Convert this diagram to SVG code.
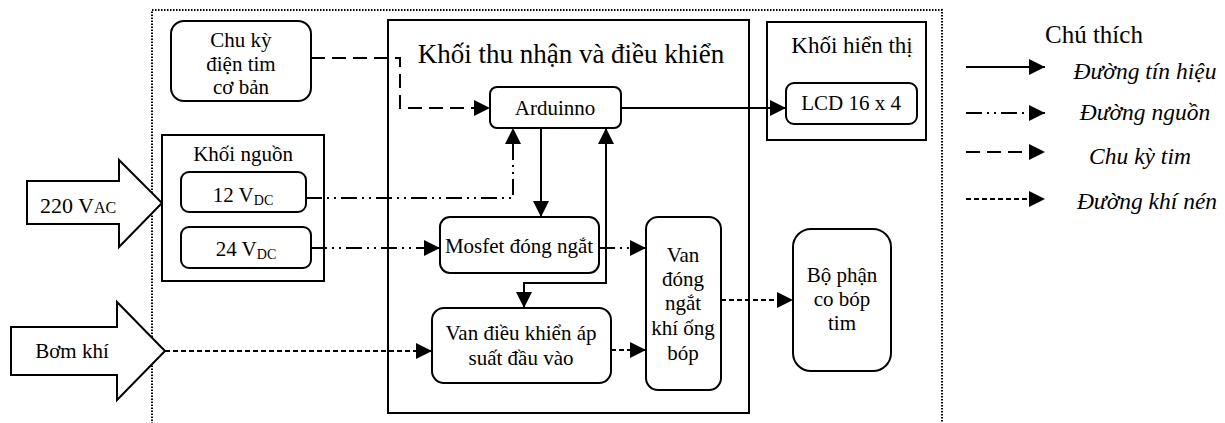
<svg xmlns="http://www.w3.org/2000/svg" width="1225" height="423" viewBox="0 0 1225 423" font-family="'Liberation Serif', 'DejaVu Serif', serif">
<style>
text{font-family:'Liberation Serif','DejaVu Serif',serif;fill:#000;}
.t{font-size:21px;text-anchor:middle;}
.box{fill:#fff;stroke:#000;stroke-width:2;}
.ln{fill:none;stroke:#000;stroke-width:2;}
.sig{marker-end:url(#ah);}
.pwr{stroke-dasharray:16,5,2,5,2,5;marker-end:url(#ah);}
.cyc{stroke-dasharray:14,7;marker-end:url(#ah);}
.air{stroke-dasharray:5,3;marker-end:url(#ah);}
.lg{font-size:23.5px;font-style:italic;text-anchor:middle;}
</style>
<defs>
<marker id="ah" markerUnits="userSpaceOnUse" markerWidth="16" markerHeight="16" refX="16" refY="8" orient="auto-start-reverse">
<path d="M0,0 L16,8 L0,16 z" fill="#000"/>
</marker>
</defs>
<rect width="1225" height="423" fill="#fff"/>
<rect id="outer" x="152" y="10" width="790" height="440" fill="none" stroke="#000" stroke-width="2" stroke-dasharray="1.5,1.5"/>

<g id="ac220">
<polygon class="box" points="27,181 119,181 119,160 162,203 119,247 119,224 27,224"/>
<text x="40" y="213" style="font-size:22px">220 V<tspan style="font-size:16px">AC</tspan></text>
</g>
<g id="bomkhi">
<polygon class="box" points="11,327 117,327 117,302 165,351 117,400 117,375 11,375"/>
<text class="t" x="72" y="358">Bơm khí</text>
</g>

<g id="chuky">
<rect class="box" x="171" y="21" width="140" height="80" rx="13"/>
<text class="t" x="241" y="47">Chu kỳ</text>
<text class="t" x="241" y="71">điện tim</text>
<text class="t" x="241" y="94">cơ bản</text>
</g>

<g id="khoinguon">
<rect class="box" x="162" y="135" width="162" height="146"/>
<text class="t" x="243" y="161">Khối nguồn</text>
</g>
<g id="v12">
<rect class="box" x="181" y="172" width="125" height="40" rx="8"/>
<text class="t" x="243" y="202">12 V<tspan style="font-size:14px" dy="3">DC</tspan></text>
</g>
<g id="v24">
<rect class="box" x="181" y="227" width="130" height="41" rx="8"/>
<text class="t" x="246" y="256">24 V<tspan style="font-size:14px" dy="3">DC</tspan></text>
</g>

<g id="khoithunhan">
<rect class="box" x="388" y="20" width="361" height="393"/>
<text x="571" y="63" style="font-size:27px;text-anchor:middle">Khối thu nhận và điều khiển</text>
</g>
<g id="arduino">
<rect class="box" x="490" y="87" width="131" height="41" rx="7"/>
<text class="t" x="555" y="115">Arduinno</text>
</g>
<g id="mosfet">
<rect class="box" x="440" y="217" width="159" height="56" rx="10"/>
<text class="t" x="519" y="253">Mosfet đóng ngắt</text>
</g>
<g id="vandieukhien">
<rect class="box" x="432" y="308" width="179" height="75" rx="12"/>
<text class="t" x="521" y="340">Van điều khiển áp</text>
<text class="t" x="521" y="365">suất đầu vào</text>
</g>
<g id="vandongngat">
<rect class="box" x="646" y="217" width="75" height="173" rx="12"/>
<text class="t" x="683" y="262">Van</text>
<text class="t" x="683" y="286">đóng</text>
<text class="t" x="683" y="310">ngắt</text>
<text class="t" x="683" y="335">khí ống</text>
<text class="t" x="683" y="360">bóp</text>
</g>

<g id="khoihienthi">
<rect class="box" x="767" y="22" width="159" height="118"/>
<text x="852" y="53" style="font-size:23px;text-anchor:middle">Khối hiển thị</text>
</g>
<g id="lcd">
<rect class="box" x="786" y="83" width="131" height="41" rx="8"/>
<text class="t" x="851" y="110">LCD 16 x 4</text>
</g>

<g id="bophan">
<rect class="box" x="793" y="229" width="98" height="142" rx="18"/>
<text class="t" x="842" y="282">Bộ phận</text>
<text class="t" x="842" y="306">co bóp</text>
<text class="t" x="842" y="330">tim</text>
</g>

<g id="connectors">
<path class="ln cyc" d="M311,58 H400 V108 H490"/>
<path class="ln pwr" d="M306,198 H513 V128"/>
<path class="ln pwr" d="M311,248 H440"/>
<path class="ln sig" d="M541,128 V217"/>
<path class="ln sig" style="marker-start:url(#ah)" d="M524,308 V283 H606 V128"/>
<path class="ln pwr" d="M599,248 H646"/>
<path class="ln air" d="M165,351 H432"/>
<path class="ln air" d="M611,350 H646"/>
<path class="ln air" d="M721,300 H793"/>
<path class="ln sig" d="M621,108 H786"/>
</g>

<g id="legend">
<text x="1045" y="43" style="font-size:25px">Chú thích</text>
<path class="ln sig" d="M966,67 H1045"/>
<text class="lg" x="1145" y="79">Đường tín hiệu</text>
<path class="ln pwr" d="M966,113 H1045"/>
<text class="lg" x="1145" y="120">Đường nguồn</text>
<path class="ln cyc" d="M966,152 H1045"/>
<text class="lg" x="1140" y="164">Chu kỳ tim</text>
<path class="ln air" d="M966,199 H1045"/>
<text class="lg" x="1147" y="209">Đường khí nén</text>
</g>
</svg>
